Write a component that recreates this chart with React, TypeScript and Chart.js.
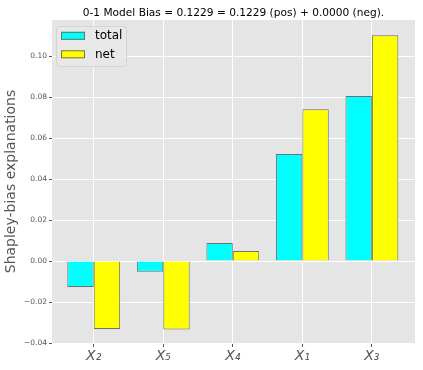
import React, { useEffect, useRef } from "react";
import { Chart, registerables } from "chart.js";

Chart.register(...registerables);

const categories = ["X₂", "X₅", "X₄", "X₁", "X₃"];
const totalValues = [-0.0127, -0.0052, 0.0088, 0.0522, 0.0805];
const netValues = [-0.0332, -0.0334, 0.0049, 0.0741, 0.1102];
const seriesNames = ["total", "net"];
const yTicks = [-0.04, -0.02, 0.0, 0.02, 0.04, 0.06, 0.08, 0.1];
const titleText = "0-1 Model Bias = 0.1229 = 0.1229 (pos) + 0.0000 (neg).";
const yTitle = "Shapley-bias explanations";

const FONT = "'DejaVu Sans', sans-serif";
const GREY = "#555555";

export default function App() {
  const ref = useRef<HTMLCanvasElement | null>(null);
  useEffect(() => {
    document.body.style.margin = "0";
    const canvas = ref.current!;
    const bgPlugin = {
      id: "bg",
      beforeDraw(chart: any) {
        const { ctx, chartArea: a } = chart;
        ctx.save();
        ctx.fillStyle = "#ffffff";
        ctx.fillRect(0, 0, chart.width, chart.height);
        ctx.fillStyle = "#e5e5e5";
        ctx.fillRect(a.left, a.top, a.right - a.left, a.bottom - a.top);
        ctx.restore();
      },
      afterDraw(chart: any) {
        const { ctx, chartArea: a } = chart;
        ctx.save();
        // title
        ctx.fillStyle = "#000";
        ctx.font = `10.6px ${FONT}`;
        ctx.textAlign = "center";
        ctx.textBaseline = "middle";
        ctx.fillText(titleText, (a.left + a.right) / 2, 13);
        // legend
        const lx = 56, ly = 26, lw = 70, lh = 40;
        ctx.fillStyle = "rgba(232,232,232,0.9)";
        ctx.strokeStyle = "#d4d4d4";
        ctx.lineWidth = 1;
        ctx.beginPath();
        (ctx as any).roundRect(lx + 0.5, ly + 0.5, lw, lh, 3);
        ctx.fill();
        ctx.stroke();
        const colors = ["#00ffff", "#ffff00"];
        const rows = [35.8, 54.3];
        ctx.font = `12px ${FONT}`;
        ctx.textAlign = "left";
        seriesNames.forEach((n, i) => {
          ctx.fillStyle = colors[i];
          ctx.fillRect(61, rows[i] - 4, 24, 8);
          ctx.strokeStyle = "#707060";
          ctx.strokeRect(61.5, rows[i] - 3.5, 23, 7);
          ctx.fillStyle = "#000";
          ctx.fillText(n, 95, rows[i] + 0.5);
        });
        ctx.restore();
      },
    };

    const chart = new Chart(canvas, {
      type: "bar",
      data: {
        datasets: [
          {
            label: seriesNames[0],
            data: totalValues.map((v, i) => ({ x: i, y: v })),
            backgroundColor: "#00ffff",
            borderColor: "#707070",
            borderWidth: 1,
            categoryPercentage: 0.76,
            barPercentage: 1,
          },
          {
            label: seriesNames[1],
            data: netValues.map((v, i) => ({ x: i, y: v })),
            backgroundColor: "#ffff00",
            borderColor: "#707070",
            borderWidth: 1,
            categoryPercentage: 0.76,
            barPercentage: 1,
          },
        ],
      },
      options: {
        animation: false,
        responsive: false,
        layout: { padding: { top: 20, right: 8, left: 0, bottom: 0 } },
        plugins: { legend: { display: false }, title: { display: false }, tooltip: { enabled: false } },
        scales: {
          x: {
            type: "linear",
            min: -0.6,
            max: 4.62,
            offset: false,
            afterBuildTicks(scale: any) {
              scale.ticks = categories.map((_, i) => ({ value: i }));
            },
            afterFit(scale: any) {
              scale.height = 27;
            },
            ticks: {
              callback: (v: any) => categories[Math.round(Number(v))] ?? "",
              color: GREY,
              font: { family: FONT, size: 14, style: "italic" },
              padding: 1,
              maxRotation: 0,
              autoSkip: false,
            },
            grid: { color: "#ffffff", lineWidth: 1, tickColor: GREY, tickLength: 4, offset: false },
            border: { display: false },
          },
          y: {
            min: -0.04,
            max: 0.1176,
            afterBuildTicks(scale: any) {
              scale.ticks = yTicks.map((v) => ({ value: v }));
            },
            afterFit(scale: any) {
              scale.width = 52;
            },
            ticks: {
              callback: (v: any) => {
                const s = Math.abs(Number(v)).toFixed(2);
                return Number(v) < -1e-9 ? "\u2212" + s : s;
              },
              color: GREY,
              font: { family: FONT, size: 7.5 },
              padding: 2,
            },
            grid: { color: "#ffffff", lineWidth: 1, tickColor: GREY, tickLength: 3 },
            border: { display: false },
            title: {
              display: true,
              text: yTitle,
              color: GREY,
              font: { family: FONT, size: 14 },
              padding: { top: 3, bottom: 0 },
            },
          },
        },
      },
      plugins: [bgPlugin],
    });
    return () => chart.destroy();
  }, []);
  return (
    <div style={{ position: "fixed", left: 0, top: 0, width: 423, height: 370 }}>
      <canvas ref={ref} width={423} height={370} style={{ width: 423, height: 370 }} />
    </div>
  );
}
